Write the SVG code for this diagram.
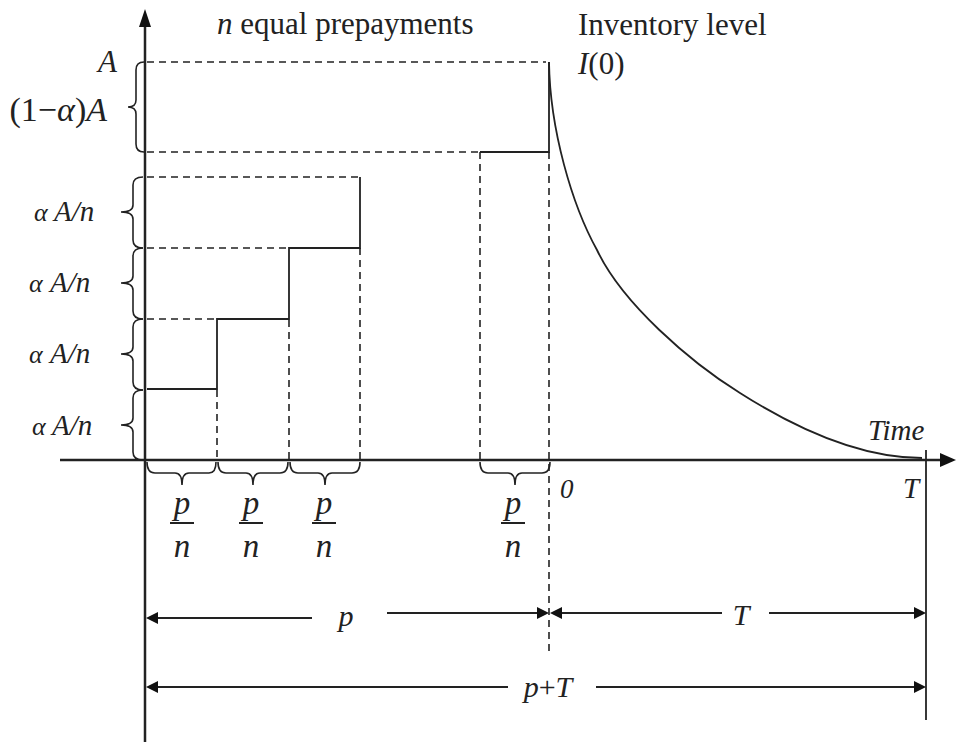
<svg xmlns="http://www.w3.org/2000/svg" width="956" height="742" viewBox="0 0 956 742">
<style>
.ax{stroke:#222;stroke-width:2.5;fill:none}
.sl{stroke:#222;stroke-width:1.8;fill:none}
.dl{stroke:#222;stroke-width:1.6;fill:none;stroke-dasharray:7 5}
.br{stroke:#222;stroke-width:1.6;fill:none}
.ah{fill:#111;stroke:none}
.i{font-style:italic}
.f1{font-family:'Liberation Serif','Times New Roman',serif}
</style>
<rect width="956" height="742" fill="#fff"/>
<g id="axes">
<line class="ax" x1="145" y1="742" x2="145" y2="24"/>
<polygon class="ah" points="145,9 139,27 151,27"/>
<line class="ax" x1="60" y1="460" x2="942" y2="460"/>
<polygon class="ah" points="956,460 940,453 940,467"/>
</g>
<g id="dashed-lines">
<path class="dl" d="M147,62 H546"/>
<path class="dl" d="M147,152 H480"/>
<path class="dl" d="M147,177 H358"/>
<path class="dl" d="M147,248 H289"/>
<path class="dl" d="M147,319 H217"/>
<path class="dl" d="M217,390 V460"/>
<path class="dl" d="M289,320 V460"/>
<path class="dl" d="M360,248 V460"/>
<path class="dl" d="M480,152 V460"/>
<path class="dl" d="M549,152 V655"/>
</g>
<g id="steps">
<path class="sl" d="M147,389 H217 V319 H289 V248 H360 V177"/>
<path class="sl" d="M480,152 H549 V62"/>
<path class="sl" d="M549,62 C550,130 572,205 597,250 C622,303 690,362 740,393 C795,428 860,458 922,458"/>
<line class="sl" x1="926" y1="450" x2="926" y2="720"/>
</g>
<g id="left-braces">
<path class="br" d="M144,62 Q136,62 136,70 V100 Q136,107 128,107 Q136,107 136,114 V144 Q136,152 144,152"/>
<path class="br" d="M143,177 Q133,177 133,185 V205 Q133,212 121,212 Q133,212 133,219 V240 Q133,248 143,248"/>
<path class="br" d="M143,248 Q133,248 133,256 V276 Q133,283 121,283 Q133,283 133,290 V311 Q133,319 143,319"/>
<path class="br" d="M143,319 Q133,319 133,327 V347 Q133,354 121,354 Q133,354 133,361 V382 Q133,390 143,390"/>
<path class="br" d="M143,390 Q133,390 133,398 V418 Q133,425 121,425 Q133,425 133,432 V452 Q133,460 143,460"/>
</g>
<g id="bottom-braces">
<path class="br" d="M147,462 Q147,473 155,473 H175 Q182,473 182,485 Q182,473 189,473 H209 Q216,473 216,462"/>
<path class="br" d="M218,462 Q218,473 226,473 H246 Q253,473 253,485 Q253,473 260,473 H280 Q288,473 288,462"/>
<path class="br" d="M290,462 Q290,473 298,473 H318 Q325,473 325,485 Q325,473 332,473 H352 Q360,473 360,462"/>
<path class="br" d="M480,462 Q480,473 488,473 H508 Q515,473 515,485 Q515,473 522,473 H542 Q550,473 550,462"/>
</g>
<g id="dimension-arrows">
<line class="sl" x1="156" y1="618" x2="312" y2="618"/>
<polygon class="ah" points="146,618 158,612 158,624"/>
<line class="sl" x1="387" y1="613" x2="538" y2="613"/>
<polygon class="ah" points="549,613 537,607 537,619"/>
<line class="sl" x1="560" y1="613" x2="722" y2="613"/>
<polygon class="ah" points="550,613 562,607 562,619"/>
<line class="sl" x1="769" y1="613" x2="915" y2="613"/>
<polygon class="ah" points="926,613 914,607 914,619"/>
<line class="sl" x1="156" y1="687" x2="508" y2="687"/>
<polygon class="ah" points="146,687 158,681 158,693"/>
<line class="sl" x1="596" y1="687" x2="915" y2="687"/>
<polygon class="ah" points="926,687 914,681 914,693"/>
</g>
<g id="labels" class="f1" fill="#222">
<text x="217" y="34" font-size="31"><tspan class="i">n</tspan> equal prepayments</text>
<text x="578" y="35" font-size="31">Inventory level</text>
<text x="578" y="74" font-size="31"><tspan class="i">I</tspan>(0)</text>
<text class="i" x="117" y="72" font-size="31" text-anchor="end">A</text>
<text x="107" y="121" font-size="34" text-anchor="end">(1−<tspan class="i">α</tspan>)<tspan class="i">A</tspan></text>
<text x="34" y="221" font-size="26" class="i">α</text><text x="54" y="221" font-size="29" class="i">A/n</text>
<text x="29" y="292" font-size="26" class="i">α</text><text x="50" y="292" font-size="29" class="i">A/n</text>
<text x="29" y="363" font-size="26" class="i">α</text><text x="50" y="363" font-size="29" class="i">A/n</text>
<text x="32" y="435" font-size="26" class="i">α</text><text x="52" y="435" font-size="29" class="i">A/n</text>
<g font-size="33" class="i" text-anchor="middle">
<text x="182" y="514">p</text><text x="182" y="557">n</text>
<text x="251" y="514">p</text><text x="251" y="557">n</text>
<text x="324" y="514">p</text><text x="324" y="557">n</text>
<text x="513" y="514">p</text><text x="513" y="557">n</text>
</g>
<text class="i" x="560" y="498" font-size="27">0</text>
<text class="i" x="868" y="440" font-size="29">Time</text>
<text class="i" x="903" y="498" font-size="29">T</text>
<text class="i" x="346" y="626" font-size="30" text-anchor="middle">p</text>
<text class="i" x="741" y="625" font-size="30" text-anchor="middle">T</text>
<text x="548" y="697" font-size="30" text-anchor="middle"><tspan class="i">p</tspan>+<tspan class="i">T</tspan></text>
</g>
<path class="sl" d="M170,523 H194 M239,523 H263 M312,523 H336 M501,523 H525"/>
</svg>
